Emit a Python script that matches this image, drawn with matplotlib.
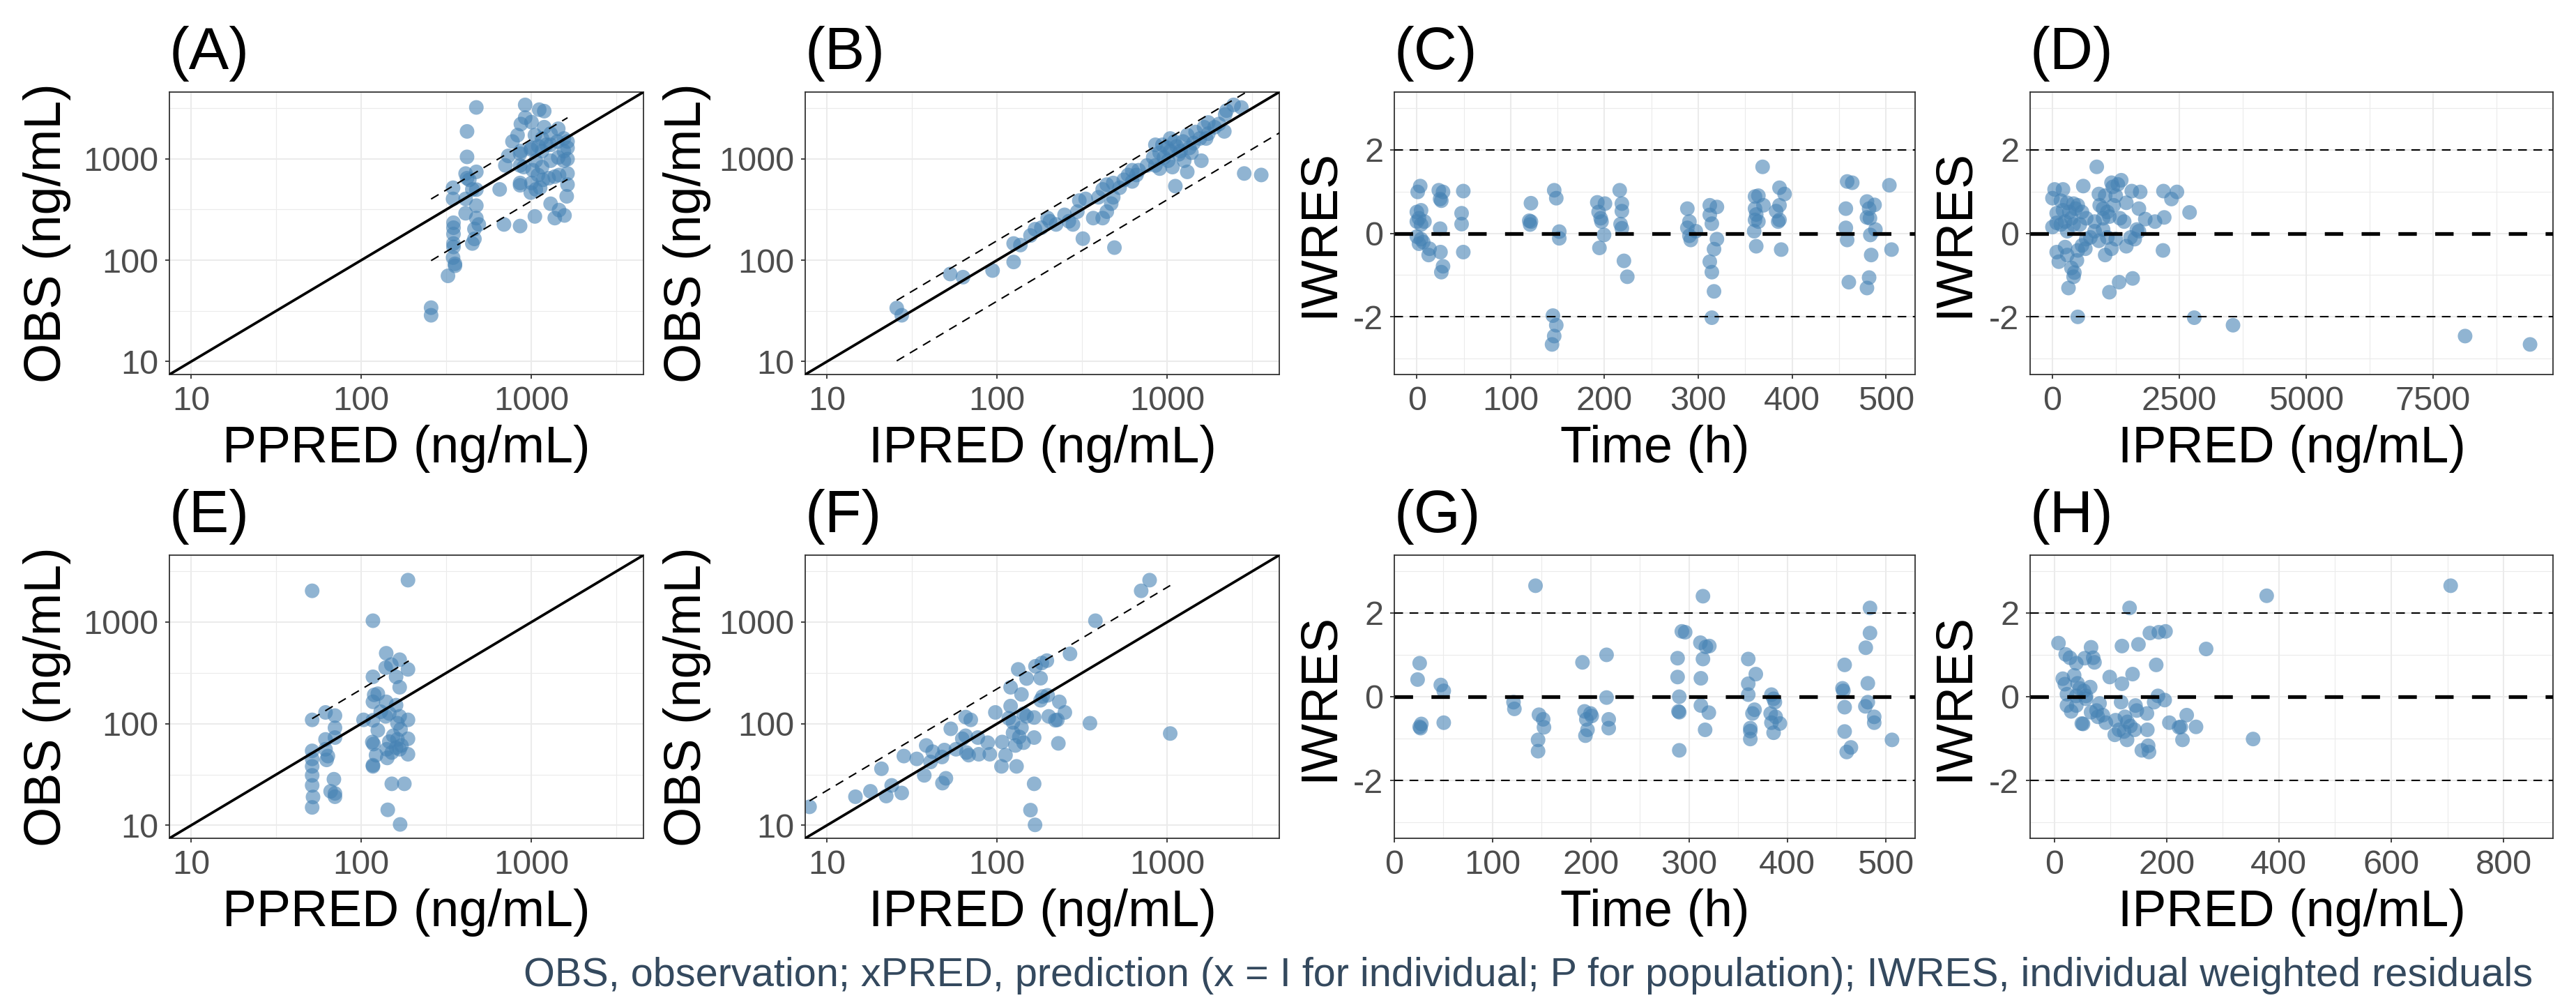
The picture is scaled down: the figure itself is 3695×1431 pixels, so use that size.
import matplotlib
matplotlib.use("Agg")
import matplotlib.pyplot as plt
import numpy as np
from matplotlib.ticker import NullFormatter

plt.rcParams['font.family'] = ['Liberation Sans', 'DejaVu Sans']
plt.rcParams['axes.unicode_minus'] = False

# ---------------- data ----------------
# (A) OBS vs PPRED, top row
a_ppred = [474, 418, 418, 418, 474, 346, 346, 410, 474, 474,
           410, 474, 348, 348, 348, 348, 348, 462, 462, 449,
           346, 355, 355, 323, 257, 257, 490, 689, 857, 650,
           702, 730, 857, 857, 857, 857, 773, 828, 866, 918,
           918, 1000, 1110, 1188, 1188, 1047, 1000, 1017, 1000, 990,
           1047, 1295, 1370, 1452, 1563, 1628, 1610, 1628, 1628, 1628,
           1628, 1550, 1436, 1420, 1436, 1452, 1370, 1260, 1153, 1060,
           1092, 1168, 1124, 1153, 1222, 1295, 1153, 1098, 990, 866,
           1550, 1550, 1295, 1295, 1060, 900, 449, 431, 410]
a_obs = [3210, 1862, 1044, 643, 743, 518, 402, 402, 496, 345,
         290, 260, 234, 209, 181, 146, 135, 203, 162, 146,
         106, 92, 88, 70, 34, 28.6, 225, 225, 217, 499,
         859, 1067, 1123, 859, 577, 548, 1480, 1710, 2200, 2547,
         3400, 2300, 3050, 2950, 2050, 1710, 1280, 771, 577, 464,
         270, 360, 260, 312, 276, 556, 426, 716, 993, 1280,
         1480, 1585, 1977, 1480, 1030, 692, 667, 643, 828, 957,
         692, 620, 518, 1190, 1374, 1770, 1585, 1325, 1240, 1190,
         1190, 957, 957, 1374, 499, 828, 499, 620, 715]
a_band_fold = [1.56, 0.385]
a_band_range = [257, 1628]

# (B) OBS vs IPRED, top row
b_ipred = [25.7, 27.5, 53, 63, 94, 125, 125, 137, 157, 167,
           182, 198, 204, 222, 249, 264, 279, 296, 304, 331,
           319, 367, 417, 441, 468, 481, 489, 394, 417, 441,
           481, 525, 555, 588, 622, 659, 622, 678, 760, 851,
           902, 851, 902, 955, 1040, 1072, 1115, 1167, 1134, 1237,
           1310, 1349, 1310, 1426, 1466, 1553, 1585, 1644, 1741, 1741,
           1690, 1897, 2009, 2163, 2188, 2228, 2455, 2722, 2831, 3565,
           1000, 826, 1011, 1196, 1257, 1386, 1100, 937, 1040]
b_obs = [33.7, 28.6, 73, 68, 79, 96, 146, 141, 175, 202,
         209, 260, 242, 225, 280, 242, 225, 301, 387, 402,
         163, 260, 260, 301, 361, 417, 133, 417, 499, 556,
         577, 518, 620, 692, 598, 692, 771, 771, 859, 859,
         800, 1374, 1147, 1030, 1190, 828, 537, 1107, 1327, 1480,
         1710, 1280, 743, 1427, 1837, 1585, 957, 2047, 2281, 1770,
         1585, 2047, 2201, 1862, 2735, 2985, 3400, 3206, 716, 692,
         1280, 1030, 957, 1190, 957, 1147, 1480, 1374, 1585]
b_band_fold = [1.56, 0.395]
b_band_range = [25.7, 9411]

# (C) IWRES vs time, top row
c_time = [3.6, 0.9, 0, 4.5, 2.3, 0, 4.5, 8.1, 0, 4.5,
          2.3, 6.8, 13.5, 12.6, 23.4, 27.9, 24.8, 26.1, 24.8, 25.2,
          27.9, 26.1, 49.5, 47.7, 47.7, 49.5, 121.6, 119.8, 121.6, 120.7,
          146.4, 148.6, 151.8, 151.8, 145, 148.6, 146.4, 144.1, 192.3, 193.7,
          195.9, 196.8, 200.5, 199.5, 194.6, 216.2, 218.5, 218.5, 217.1, 218.5,
          220.7, 224.3, 288.3, 290.5, 288.3, 290.5, 291.9, 297.3, 312.2, 319.8,
          312.2, 314.4, 319.8, 316.7, 312.2, 314.4, 316.7, 314.4, 360.4, 364,
          360.4, 369.4, 360.4, 361.7, 364, 359.5, 361.7, 368.5, 386.5, 391.9,
          386.5, 382.9, 385.1, 386.5, 388.3, 458.6, 464, 457.2, 457.2, 458.6,
          460.4, 479.7, 487.8, 482, 479.7, 482.9, 488.7, 483.3, 484.2, 482,
          479.7, 503.6, 505.9]
c_iwres = [1.13, 0.99, 0.51, 0.55, 0.36, 0.28, 0.21, 0.28, -0.08, -0.14,
           -0.25, -0.21, -0.37, -0.52, 1.03, 0.99, 0.82, 0.78, 0.11, -0.45,
           -0.79, -0.93, 1.01, 0.48, 0.22, -0.45, 0.72, 0.30, 0.28, 0.21,
           1.03, 0.84, 0.04, -0.12, -1.97, -2.2, -2.46, -2.66, 0.74, 0.51,
           0.36, 0.28, 0.71, -0.04, -0.35, 1.03, 0.71, 0.53, 0.22, 0.12,
           -0.66, -1.04, 0.59, 0.28, 0.13, -0.06, -0.16, 0.05, 0.67, 0.63,
           0.44, 0.23, -0.14, -0.38, -0.68, -0.93, -1.39, -2.02, 0.88, 0.9,
           0.59, 0.67, 0.32, 0.45, 0.28, 0.05, -0.31, 1.59, 1.09, 0.94,
           0.67, 0.53, 0.28, 0.32, -0.39, 1.24, 1.21, 0.59, 0.13, -0.16,
           -1.17, 0.76, 0.68, 0.59, 0.38, 0.36, 0.09, -0.04, -0.52, -1.06,
           -1.31, 1.15, -0.39]

# (D) IWRES vs IPRED, top row
d_ipred = [873, 607, 42, 208, 0, 166, 291, 416, 499, 83,
           208, 333, 457, 582, 665, 0, 83, 249, 416, 291,
           374, 540, 831, 915, 998, 931, 1039, 1164, 1189, 1289,
           1355, 1247, 1206, 1455, 1081, 998, 1122, 1330, 1413, 1563,
           1729, 1704, 1829, 2020, 2203, 2187, 2453, 2345, 2702, 1663,
           1704, 1621, 1538, 1455, 1247, 1081, 915, 748, 665, 582,
           648, 499, 249, 83, 291, 125, 482, 1039, 1164, 374,
           432, 416, 316, 1122, 1314, 1580, 2178, 499, 2794, 3558,
           8131, 9411, 831, 998, 166]
d_iwres = [1.59, 1.13, 1.05, 1.05, 0.84, 0.78, 0.73, 0.71, 0.67, 0.48,
           0.55, 0.51, 0.59, 0.51, 0.36, 0.15, 0.25, 0.28, 0.21, 0.05,
           0.36, 0.21, 0.28, 0.94, 0.59, 0.67, 0.9, 1.21, 1.11, 1.17,
           1.27, 0.9, 0.67, 0.73, 0.51, 0.36, 0.40, 0.36, 0.28, 1.01,
           0.99, 0.59, 0.34, 0.28, 0.38, 1.01, 0.99, 0.82, 0.50, 0.09,
           0.05, -0.14, -0.10, -0.31, -0.14, -0.10, -0.18, -0.10, -0.14, -0.29,
           -0.37, -0.41, -0.33, -0.45, -0.52, -0.68, -0.65, -0.52, -0.37, -0.83,
           -0.94, -1.04, -1.31, -1.41, -1.17, -1.08, -0.41, -2.0, -2.02, -2.2,
           -2.46, -2.66, 0.05, 0.09, 0.21]

# (E) OBS vs PPRED, bottom row
e_ppred = [51.4, 188, 117, 140, 168, 150, 139, 188, 117, 160,
           168, 119, 125, 117, 140, 160, 130, 103, 117, 139,
           146, 168, 188, 163, 170, 125, 116, 118, 146, 154,
           163, 172, 141, 151, 160, 188, 188, 168, 122, 117,
           117, 142, 151, 179, 143, 169, 51.4, 61.6, 70, 70,
           70, 61.6, 61.6, 63.6, 62.5, 51.4, 51.4, 51.4, 51.4, 51.4,
           52, 51.4, 69, 66, 70, 70]
e_obs = [2028, 2582, 1030, 493, 426, 381, 355, 342, 289, 289,
         228, 192, 197, 164, 164, 152, 131, 109, 108, 118,
         126, 118, 109, 101, 88, 86, 66, 63, 66.5, 76,
         70, 61, 56, 52, 58, 71, 50, 56, 49, 38,
         39, 46, 25.6, 25.6, 14.2, 10.2, 109, 129, 120, 91,
         73, 70, 56, 48, 44, 54, 45, 38, 31, 24.7,
         19, 15, 28.4, 21.6, 20.6, 19.1]
e_band_fold = [2.18]
e_band_range = [51.4, 190]

# (F) OBS vs IPRED, bottom row
f_ipred = [7.9, 14.7, 18, 22.3, 24, 27.5, 20.9, 28.3, 33.7, 37.3,
           38.3, 41.8, 40.6, 47.7, 50, 47.4, 49, 53.4, 57.3, 62.4,
           65.3, 66, 68, 65.3, 70, 77, 78, 88, 90.5, 97.6,
           107, 106, 112, 120, 120, 117, 124, 124, 130, 133,
           139, 143, 149, 139, 135, 128, 143, 165, 165, 165,
           157, 167, 149, 168, 180, 183, 196, 180, 185, 198,
           201, 220, 226, 232, 250, 229, 268, 378, 351, 702,
           787, 1040]
f_obs = [15.2, 19.1, 21.6, 19.4, 24.7, 20.8, 36, 48, 45, 31,
         61, 53, 42, 26, 29, 47, 55, 89, 56, 71,
         76, 52, 49, 116, 109, 73, 50, 65, 50, 129,
         66, 38, 49, 228, 149, 113, 103, 81, 38, 342,
         194, 125, 118, 91, 74, 61, 65, 115, 73, 25.6,
         14.1, 10.1, 278, 367, 280, 395, 417, 170, 185, 190,
         118, 108, 109, 164, 129, 64, 486, 1030, 101, 2028,
         2582, 80]
f_band_fold = [2.2]
f_band_range = [7.9, 1040]

# (G) IWRES vs time, bottom row
g_time = [23.7, 25.8, 25.8, 27.5, 26.7, 47.3, 50.3, 50.3, 121.3, 122.2,
          143.7, 147.2, 151.5, 152.3, 146.3, 146.3, 191.5, 193.6, 195.4, 196.6,
          194.5, 199.7, 200.9, 216, 216, 218.2, 218.2, 288.3, 288.3, 290,
          289.2, 290, 290, 292.6, 296, 311.5, 317.1, 320.6, 314.1, 312,
          314.1, 312, 320.1, 316.3, 360.2, 360.2, 360.2, 367.9, 364.5, 366.6,
          362.3, 362.3, 362.3, 383.8, 386, 387.3, 383, 388.1, 392.4, 383.8,
          386, 456.1, 457, 458.3, 458.3, 458.3, 460.4, 464.7, 479.8, 484.1,
          484.1, 481.9, 481.9, 479.4, 488.4, 488.4, 506.5]
g_iwres = [0.41, 0.80, -0.72, -0.65, -0.75, 0.28, 0.14, -0.62, -0.13, -0.29,
           2.65, -0.43, -0.54, -0.73, -1.03, -1.30, 0.82, -0.35, -0.54, -0.79,
           -0.93, -0.40, -0.46, 1.0, -0.02, -0.54, -0.75, 0.92, 0.47, 0.0,
           -0.35, -0.37, -1.28, 1.56, 1.54, 1.29, 1.19, 1.21, 0.90, 0.44,
           2.40, -0.21, -0.38, -0.79, 0.90, 0.31, 0.05, 0.54, -0.40, -0.31,
           -0.75, -1.01, -0.82, 0.05, -0.05, -0.13, -0.40, -0.48, -0.64, -0.62,
           -0.86, 0.20, 0.14, 0.76, -0.25, -0.83, -1.32, -1.21, 1.17, 1.52,
           2.12, 0.32, -0.13, -0.23, -0.48, -0.62, -1.03]

# (H) IWRES vs IPRED, bottom row
h_ipred = [7.5, 20.3, 27.9, 39.2, 54.2, 65.5, 69.3, 71.6, 15.1, 18.8,
           35.4, 41.4, 45.2, 52.7, 64, 56.5, 39.2, 22.6, 22.6, 30.1,
           39.2, 49, 51.2, 56.5, 65.5, 75.3, 80.6, 77.6, 86.6, 91.9,
           98.7, 109.2, 107.7, 115.3, 120.5, 120.5, 119, 124.3, 129.6, 125.8,
           134.1, 130.3, 135.6, 139.4, 143.1, 144.6, 146.9, 149.9, 155.9, 165,
           165.7, 167.2, 168.7, 170.2, 181.5, 177.8, 184.6, 186.1, 198.1, 196.6,
           204.9, 222.2, 225.2, 228.3, 235.8, 252.4, 270.4, 354, 378.2, 705.8]
h_iwres = [1.28, 1.01, 0.93, 0.80, 0.92, 1.18, 0.93, 0.82, 0.43, 0.30,
           0.51, 0.32, 0.20, 0.14, 0.23, 0.02, 0.02, 0.06, -0.21, -0.35,
           -0.21, -0.64, -0.65, -0.05, -0.37, -0.33, -0.16, -0.48, -0.44, -0.62,
           0.47, -0.56, -0.91, -0.79, 1.21, 0.31, -0.13, -0.83, -1.03, -0.48,
           2.12, -0.60, -0.70, 0.54, -0.79, -0.21, -0.33, 1.25, -1.28, -0.40,
           -0.79, -1.17, -1.32, 1.52, 0.76, -0.13, 0.02, 1.54, 1.56, -0.08,
           -0.62, -0.73, -0.72, -1.03, -0.44, -0.72, 1.14, -1.01, 2.41, 2.65]

footnote = ("OBS, observation; xPRED, prediction (x = I for individual; "
            "P for population); IWRES, individual weighted residuals")

# ---------------- layout ----------------
W, H = 3695, 1431
fig = plt.figure(figsize=(W / 100, H / 100), dpi=100)
fig.patch.set_facecolor('white')

cols = [(243, 923), (1155, 1835), (2000, 2747), (2912, 3662)]
rows = [(132, 537), (796, 1202)]
ylab_x = [68, 985, 1892, 2803]

POINT = '#4682B4'
LOG_LIM = (7.45, 4550)


def make_axes(r, c):
    x0, x1 = cols[c]
    y0, y1 = rows[r]
    ax = fig.add_axes([x0 / W, 1 - y1 / H, (x1 - x0) / W, (y1 - y0) / H])
    for s in ax.spines.values():
        s.set_color('#333333')
        s.set_linewidth(1.3)
    ax.tick_params(which='major', direction='out', length=4.3, width=1.3,
                   color='#333333', labelsize=35, labelcolor='#4D4D4D', pad=7)
    ax.tick_params(which='minor', length=0)
    ax.grid(True, which='major', color='#EBEBEB', lw=1.5)
    ax.grid(True, which='minor', color='#EBEBEB', lw=0.8)
    ax.set_axisbelow(True)
    return ax


def decorate(r, c, letter, xlabel, ylabel):
    x0, x1 = cols[c]
    y0, y1 = rows[r]
    fig.text(x0 / W, 1 - (y0 - 33) / H, letter, fontsize=62,
             ha='left', va='baseline')
    fig.text((x0 + x1) / 2 / W, 1 - (y1 + 126) / H, xlabel, fontsize=53,
             ha='center', va='baseline')
    fig.text(ylab_x[c] / W, 1 - (y0 + y1) / 2 / H, ylabel, fontsize=53,
             rotation=90, ha='center', va='center')


def gof_panel(ax, x, y, folds, band_range):
    ax.set_xscale('log')
    ax.set_yscale('log')
    ax.set_xlim(*LOG_LIM)
    ax.set_ylim(*LOG_LIM)
    ticks = [10, 100, 1000]
    minor = [10 ** 1.5, 10 ** 2.5, 10 ** 3.5]
    for axis in (ax.xaxis, ax.yaxis):
        axis.set_ticks(ticks, labels=[str(t) for t in ticks])
        axis.set_ticks(minor, minor=True)
        axis.set_minor_formatter(NullFormatter())
    ax.scatter(x, y, s=228, color=POINT, alpha=0.6, edgecolors='none', zorder=2)
    ax.plot(LOG_LIM, LOG_LIM, color='black', lw=2.7, zorder=3)
    xs = np.array(band_range, dtype=float)
    for f in folds:
        ax.plot(xs, xs * f, color='black', lw=1.5, dashes=(6, 4.5), zorder=3)


def res_panel(ax, x, y, xlim, xmajor, xminor):
    ax.set_xlim(*xlim)
    ax.set_ylim(-3.38, 3.38)
    ax.set_xticks(xmajor, labels=[str(t) for t in xmajor])
    ax.set_xticks(xminor, minor=True)
    ax.set_yticks([-2, 0, 2], labels=['-2', '0', '2'])
    ax.set_yticks([-3, -1, 1, 3], minor=True)
    ax.scatter(x, y, s=228, color=POINT, alpha=0.6, edgecolors='none', zorder=2)
    ax.axhline(0, color='black', lw=3.8, dashes=(5, 5), zorder=3)
    for v in (-2, 2):
        ax.axhline(v, color='black', lw=1.5, dashes=(6, 4.5), zorder=3)


time_major = [0, 100, 200, 300, 400, 500]
time_minor = [50, 150, 250, 350, 450]

# top row
ax = make_axes(0, 0)
gof_panel(ax, a_ppred, a_obs, a_band_fold, a_band_range)
decorate(0, 0, '(A)', 'PPRED (ng/mL)', 'OBS (ng/mL)')

ax = make_axes(0, 1)
gof_panel(ax, b_ipred, b_obs, b_band_fold, b_band_range)
decorate(0, 1, '(B)', 'IPRED (ng/mL)', 'OBS (ng/mL)')

ax = make_axes(0, 2)
res_panel(ax, c_time, c_iwres, (-24, 531), time_major, time_minor)
decorate(0, 2, '(C)', 'Time (h)', 'IWRES')

ax = make_axes(0, 3)
res_panel(ax, d_ipred, d_iwres, (-440, 9863), [0, 2500, 5000, 7500],
          [1250, 3750, 6250, 8750])
decorate(0, 3, '(D)', 'IPRED (ng/mL)', 'IWRES')

# bottom row
ax = make_axes(1, 0)
gof_panel(ax, e_ppred, e_obs, e_band_fold, e_band_range)
decorate(1, 0, '(E)', 'PPRED (ng/mL)', 'OBS (ng/mL)')

ax = make_axes(1, 1)
gof_panel(ax, f_ipred, f_obs, f_band_fold, f_band_range)
decorate(1, 1, '(F)', 'IPRED (ng/mL)', 'OBS (ng/mL)')

ax = make_axes(1, 2)
res_panel(ax, g_time, g_iwres, (0, 530), time_major, time_minor)
decorate(1, 2, '(G)', 'Time (h)', 'IWRES')

ax = make_axes(1, 3)
res_panel(ax, h_ipred, h_iwres, (-43, 888), [0, 200, 400, 600, 800],
          [100, 300, 500, 700])
decorate(1, 3, '(H)', 'IPRED (ng/mL)', 'IWRES')

fig.text(3633 / W, 1 - 1414 / H, footnote, fontsize=41.5, color='#34495E',
         ha='right', va='baseline')

fig.savefig('out.png', dpi=100, facecolor='white')
